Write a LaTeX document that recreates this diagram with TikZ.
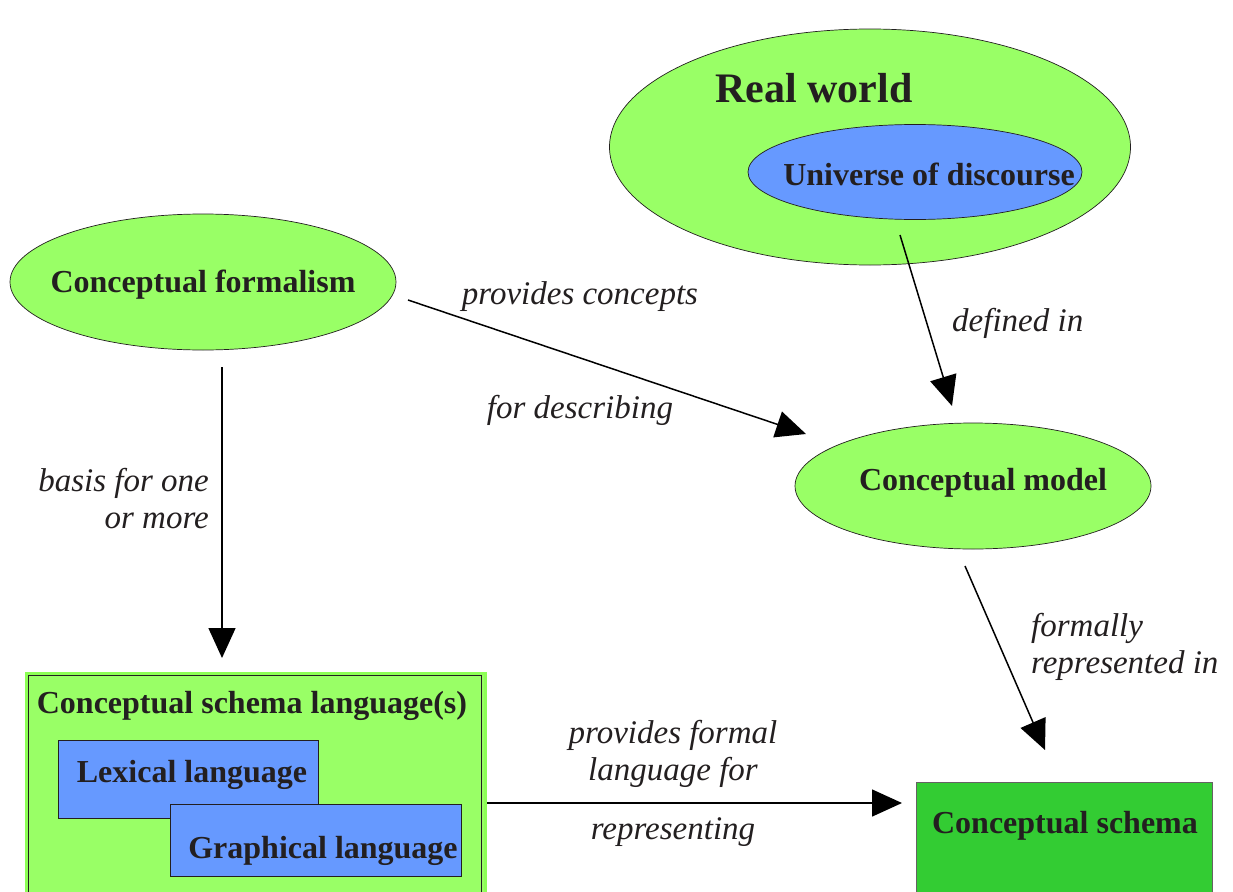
\documentclass[tikz,border=0pt]{standalone}
\usepackage{fontspec}
\setmainfont{Liberation Serif}
\usetikzlibrary{arrows.meta,shapes.geometric}
\definecolor{lgreen}{HTML}{99FF66}
\definecolor{lgreenb}{HTML}{8CFF55}
\definecolor{dgreen}{HTML}{33CC33}
\definecolor{lblue}{HTML}{6699FF}
\definecolor{ink}{HTML}{231F20}
\tikzset{
  ell/.style={ellipse,draw=ink,line width=0.7pt,inner sep=0pt},
  rbox/.style={rectangle,draw=ink,line width=0.7pt,inner sep=0pt},
  btext/.style={font=\bfseries\fontsize{32}{38}\selectfont,text=ink,inner sep=0pt,anchor=base},
  lab/.style={font=\itshape\fontsize{33}{39}\selectfont,text=ink,inner sep=0pt},
  conn/.style={line width=1.5pt,-{Triangle[length=30pt,width=27pt]}},
}
\begin{document}
\begin{tikzpicture}[x=1pt,y=-1pt]
\useasboundingbox (0,0) rectangle (1233,891);
% Real world
\node[ell,fill=lgreen,minimum width=521,minimum height=236] (rw) at (870,147) {};
\node[btext,font=\bfseries\fontsize{42}{48}\selectfont] (rwt) at (814,102) {Real world};
\node[ell,fill=lblue,minimum width=334,minimum height=95] (ud) at (915,172) {};
\node[btext] (udt) at (929,185) {Universe of discourse};
% Conceptual formalism
\node[ell,fill=lgreen,minimum width=386,minimum height=136] (cf) at (203,282) {};
\node[btext] (cft) at (203,292) {Conceptual formalism};
% Conceptual model
\node[ell,fill=lgreen,minimum width=356,minimum height=126] (cm) at (973,486) {};
\node[btext] (cmt) at (983,490) {Conceptual model};
% Conceptual schema language(s)
\node[rectangle,fill=lgreen,draw=lgreenb,line width=3pt,minimum width=459,minimum height=240,inner sep=0pt,anchor=north west] (csl) at (25,672) {};
\draw[ink,line width=0.7pt] (28,675) -- (481,675);
\draw[ink,line width=0.7pt] (28,675) -- (28,895);
\draw[ink,line width=0.7pt] (481,675) -- (481,895);
\node[btext] (cslt) at (252,713) {Conceptual schema language(s)};
\node[rbox,fill=lblue,minimum width=260,minimum height=78,anchor=north west] (lex) at (58,740) {};
\node[btext] (lext) at (192,782) {Lexical language};
\node[rbox,fill=lblue,minimum width=291,minimum height=72,anchor=north west] (gra) at (170,804) {};
\node[btext] (grat) at (323,858) {Graphical language};
% Conceptual schema
\node[rbox,fill=dgreen,draw=ink!70,minimum width=296,minimum height=130,anchor=north west] (cs) at (916,782) {};
\node[btext] (cst) at (1065,833) {Conceptual schema};
% connector end points
\coordinate (a1s) at (408,300);
\coordinate (a1e) at (806,434);
\coordinate (a2s) at (900,235);
\coordinate (a2e) at (952,406);
\coordinate (a3s) at (222,367);
\coordinate (a3e) at (222,658);
\coordinate (a4s) at (965,566);
\coordinate (a4e) at (1045,750);
\coordinate (a5s) at (487,803);
\coordinate (a5e) at (902,803);
\draw[conn] (a1s) -- (a1e);
\draw[conn] (a2s) -- (a2e);
\draw[conn] (a3s) -- (a3e);
\draw[conn] (a4s) -- (a4e);
\draw[conn] (a5s) -- (a5e);
% labels
\node[lab,anchor=base] (l1) at (580,304) {provides concepts};
\node[lab,anchor=base] (l2) at (580,418) {for describing};
\node[lab,anchor=base west] (l3) at (952,331) {defined in};
\node[lab,anchor=base east] (l4) at (209,491) {basis for one};
\node[lab,anchor=base east] (l5) at (209,528) {or more};
\node[lab,anchor=base west] (l6) at (1031,636) {formally};
\node[lab,anchor=base west] (l7) at (1031,673) {represented in};
\node[lab,anchor=base] (l8) at (673,743) {provides formal};
\node[lab,anchor=base] (l9) at (673,780) {language for};
\node[lab,anchor=base] (l10) at (673,839) {representing};
\end{tikzpicture}
\end{document}
